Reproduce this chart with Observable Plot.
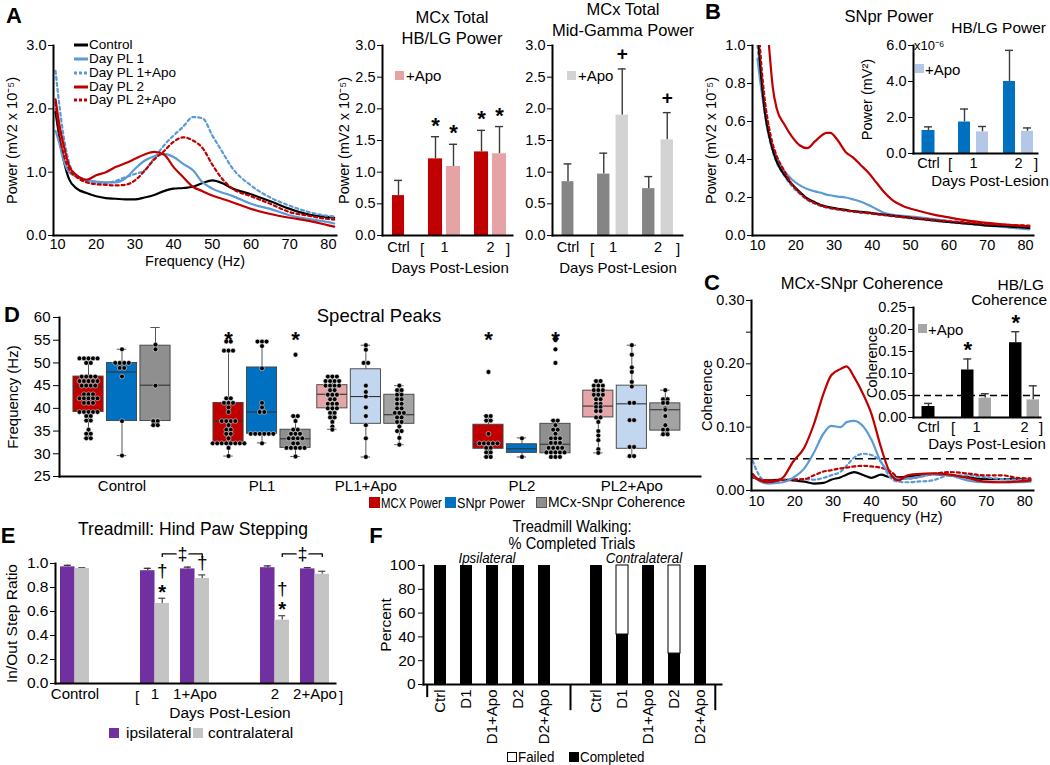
<!DOCTYPE html>
<html><head><meta charset="utf-8">
<script src="https://cdn.jsdelivr.net/npm/d3@7"></script>
<script src="https://cdn.jsdelivr.net/npm/@observablehq/plot@0.6"></script>
<style>
html,body{margin:0;padding:0;background:#fff;}
#root{position:relative;width:1050px;height:765px;overflow:hidden;font-family:"Liberation Sans",Arial,sans-serif;color:#000;}
#root svg{overflow:visible;}
</style></head>
<body><div id="root"></div>
<script>
// ================= DATA =================
// Panel A: MCx power spectra
const freqA = [9.5,10.5,11.5,13,15,17.5,20,22.5,25,27.5,30,32.5,35,37.5,40,42.5,45,47.5,50,52.5,55,60,65,70,75,80,81.5];
const aControl = [1.95,1.55,1.22,0.89,0.74,0.67,0.62,0.59,0.58,0.57,0.57,0.6,0.64,0.7,0.74,0.75,0.77,0.83,0.87,0.83,0.75,0.65,0.54,0.42,0.33,0.29,0.28];
const aPL1 = [1.65,1.45,1.2,1.0,0.93,0.88,0.85,0.84,0.84,0.9,1.05,1.18,1.25,1.29,1.24,1.13,1.03,0.84,0.74,0.68,0.63,0.5,0.42,0.32,0.26,0.21,0.19];
const aPL1Apo = [2.6,2.05,1.6,1.15,0.93,0.86,0.83,0.83,0.86,0.92,0.97,1.03,1.22,1.42,1.58,1.72,1.87,1.85,1.58,1.33,1.08,0.79,0.6,0.47,0.37,0.31,0.3];
const aPL2 = [2.15,1.75,1.45,1.1,0.95,0.88,0.95,1.0,1.08,1.14,1.21,1.28,1.32,1.28,1.08,0.92,0.77,0.7,0.63,0.58,0.53,0.42,0.34,0.28,0.23,0.16,0.14];
const aPL2Apo = [2.1,1.6,1.3,1.05,0.92,0.84,0.81,0.8,0.79,0.8,0.87,1.02,1.2,1.33,1.48,1.55,1.5,1.38,1.12,0.9,0.75,0.62,0.5,0.37,0.31,0.26,0.25];
const seriesNames = ["Control","Day PL 1","Day PL 1+Apo","Day PL 2","Day PL 2+Apo"];
const freqTicks = [10,20,30,40,50,60,70,80];

// Panel A bars
const barGroups = ["Ctrl","1","2"];
const hbPower = [0.63,1.21,1.32];
const hbPowerErr = [0.87,1.56,1.66];
const hbPowerApo = [null,1.09,1.29];
const hbPowerApoErr = [null,1.44,1.72];
const hbSig = ["","*","*"];
const hbSigApo = ["","*","*"];
const mgPower = [0.85,0.97,0.74];
const mgPowerErr = [1.13,1.3,0.93];
const mgPowerApo = [null,1.9,1.51];
const mgPowerApoErr = [null,2.63,1.94];
const mgSig = ["","",""];
const mgSigApo = ["","+","+"];

// Panel B: SNpr power spectra
const freqB = [10,11,12,13,14,15,17,19,21,23,25,27,28,29,31,33,35,37,39,41,43,45,48,52,56,60,65,70,75,81];
const bControl = [1.08,0.83,0.64,0.53,0.45,0.39,0.32,0.27,0.23,0.195,0.175,0.157,0.152,0.148,0.14,0.135,0.128,0.124,0.12,0.115,0.11,0.105,0.098,0.088,0.08,0.071,0.063,0.053,0.048,0.04];
const bPL1 = [0.93,0.77,0.64,0.54,0.46,0.41,0.34,0.295,0.265,0.245,0.232,0.222,0.215,0.212,0.205,0.2,0.19,0.178,0.16,0.14,0.12,0.11,0.103,0.096,0.087,0.076,0.064,0.053,0.044,0.032];
const bPL1Apo = [1.0,0.8,0.63,0.52,0.44,0.385,0.315,0.26,0.22,0.188,0.168,0.152,0.147,0.143,0.136,0.13,0.125,0.12,0.116,0.112,0.107,0.102,0.095,0.086,0.078,0.07,0.061,0.052,0.045,0.036];
const bPL2 = [2.2,1.7,1.25,1.0,0.78,0.67,0.585,0.52,0.475,0.46,0.495,0.53,0.54,0.54,0.5,0.44,0.41,0.37,0.33,0.28,0.23,0.19,0.155,0.13,0.11,0.095,0.078,0.066,0.057,0.048];
const bPL2Apo = [1.2,0.9,0.7,0.57,0.48,0.42,0.34,0.27,0.225,0.19,0.17,0.155,0.15,0.145,0.138,0.132,0.127,0.122,0.118,0.113,0.108,0.104,0.097,0.09,0.082,0.075,0.068,0.06,0.056,0.052];
const snHB = [1.28,1.75,4.0];
const snHBErr = [1.48,2.47,5.73];
const snHBApo = [null,1.2,1.23];
const snHBApoErr = [null,1.5,1.42];

// Panel C: coherence
const freqC = [9,10.5,13,15.5,17,19.5,22.5,25,27.5,29.5,32,33.5,35.5,38,40,42.5,45,47,49.5,52,56,60.5,65,69.5,74,78,81.5];
const cControl = [0.021,0.018,0.016,0.017,0.017,0.016,0.014,0.011,0.012,0.017,0.021,0.025,0.029,0.024,0.02,0.025,0.021,0.021,0.022,0.024,0.026,0.024,0.021,0.018,0.018,0.018,0.017];
const cPL1 = [0.024,0.016,0.011,0.012,0.013,0.02,0.035,0.06,0.09,0.102,0.1,0.108,0.11,0.1,0.08,0.045,0.026,0.018,0.019,0.021,0.026,0.024,0.016,0.013,0.013,0.013,0.014];
const cPL1Apo = [0.047,0.026,0.013,0.015,0.017,0.018,0.018,0.017,0.02,0.024,0.03,0.039,0.052,0.058,0.056,0.045,0.02,0.014,0.013,0.014,0.016,0.024,0.024,0.021,0.018,0.017,0.017];
const cPL2 = [0.026,0.017,0.013,0.016,0.021,0.045,0.068,0.105,0.153,0.182,0.192,0.196,0.179,0.15,0.121,0.068,0.026,0.016,0.024,0.026,0.027,0.025,0.02,0.014,0.013,0.014,0.016];
const cPL2Apo = [0.021,0.018,0.016,0.016,0.016,0.017,0.018,0.024,0.03,0.032,0.035,0.036,0.038,0.039,0.038,0.036,0.03,0.021,0.019,0.021,0.026,0.029,0.027,0.024,0.024,0.02,0.019];
const cohHB = [0.025,0.108,0.17];
const cohHBErr = [0.032,0.133,0.195];
const cohHBApo = [null,0.044,0.04];
const cohHBApoErr = [null,0.054,0.072];
const cohSig = ["","*","*"];
const cohThreshold = 0.05;

// Panel D: spectral peaks (box stats: lo, q1, median, q3, hi)
const groupsD = ["Control","PL1","PL1+Apo","PL2","PL2+Apo"];
const measuresD = ["MCX Power","SNpr Power","MCx-SNpr Coherence"];
const mcxBoxes = [[33.4,39.2,44.8,47.0,51.0],[29.5,32.5,37.2,41.2,52.7],[35.4,40.0,43.1,45.1,47.1],[29.3,31.1,32.1,36.4,38.4],[30.2,38.0,40.5,43.9,46.1]];
const snprBoxes = [[29.6,37.2,48.0,50.0,53.0],[32.4,34.4,39.2,49.0,54.7],[29.3,36.6,42.6,48.6,53.9],[29.3,30.2,31.1,32.1,33.5],[29.3,31.1,41.0,45.0,53.9]];
const cohBoxes = [[36.2,37.2,45.1,53.8,57.8],[29.4,31.3,33.3,35.3,38.3],[32.0,36.6,38.6,43.0,45.0],[29.3,30.1,32.1,36.6,37.3],[34.1,35.1,39.7,41.1,44.0]];
const mcxDots = [
 [51,51,51,51,51,50,50,47,47,47,47,46,46,46,46,46,45,45,45,45,43.1,43.1,43.1,42.2,42.2,42.2,42.2,42.2,41.2,41.2,41.2,39.2,39.2,39.2,39.2,39.2,38.3,38.3,37.3,37.3,35.3,34.4,34.4,33.4,33.4],
 [54.7,54.7,52.7,52.7,52.7,42.2,42.2,41.2,41.2,41.2,40.2,39.2,37.2,37.2,37.2,37.2,36.3,35.3,35.3,34.4,34.4,33.4,32.3,32.3,32.3,32.3,32.3,32.3,32.3,32.3,31.3,29.5],
 [47,47,47,46,46,46,46,45,45,45,45,44,44,43,43,43,42,42,41,41,41,40,40,40,39,39,38,38,37,36,35.3],
 [48,38.3,38.3,37.3,37.3,34.4,32.3,32.3,32.3,32.3,32.3,31.3,31.3,30.3,30.3,29.3,29.3],
 [46,46,45,45,45,44,44,44,43,43,43,42,42,41,41,40.3,40.3,39.4,39.4,38,38,37,35,34,33,31,30.2]
];
const snprDots = [
 [53,50,50,50,50,48.9,48.9,47,37.2,29.6],
 [54.7,54.7,54.7,53.7,48.8,41.2,40.2,39.2,39.2,34.4,34.4,34.4,34.4,34.4,34.4,32.3],
 [53.9,52.9,50,50,45,43.6,42.6,40.2,38.3,36.3,33.4,29.3],
 [33.4,29.3],
 [53.9,51.8,49,48,45.8,44.8,41.2,41.2,37.4,37.4,31.5,31.5,29.5,29.5]
];
const cohDots = [
 [54,53,45,37.2,37.2,36.3,36.3],
 [51.8,38.3,38.3,37.2,35.3,35.3,34.4,34.4,34.4,33.4,33.4,33.4,33.4,32.3,32.3,31.3,31.3,31.3,31.3,31.3,29.4],
 [45,44,44,43,43,42,42,41,41,40,40,39,39,39,38,38,37,37,36,35,35,33.5,32],
 [55,53,50,37.3,37.3,36.3,35.3,35.3,34.4,33.4,33.4,33.4,32.4,32.4,32.4,31.3,31.3,31.3,31.3,30.3,30.3,30.3,30.3,30.3,29.3,29.3,29.3],
 [44,42,42,41.2,41.2,40,39.7,38.3,36.3,35.3,35.3,34.3,34.3]
];
const starsD = [[false,false,false],[true,false,true],[false,false,false],[true,false,true],[false,false,false]];

// Panel E: hind paw stepping
const groupsE = ["Control","1","1+Apo","2","2+Apo"];
const ipsiE = [0.972,0.94,0.955,0.965,0.955];
const ipsiErrE = [0.985,0.96,0.97,0.98,0.965];
const contraE = [0.958,0.667,0.875,0.528,0.91];
const contraErrE = [0.965,0.71,0.905,0.565,0.935];
const starsE = ["","*","","*",""];
const daggersE = ["","†","†","†",""];
const bracketsE = [["1","1+Apo"],["2","2+Apo"]];

// Panel F: % completed trials
const catsF = ["Ctrl","D1","D1+Apo","D2","D2+Apo"];
const ipsiCompletedF = [100,100,100,100,100];
const contraCompletedF = [100,42,100,26,100];

// ================= STYLE / LAYOUT =================
const FONT = '"Liberation Sans", Arial, sans-serif';
const RED = "#c00000", BLUE = "#5b9bd5", DBLUE = "#0070c0";
const lineStyle = {
  "Control": {stroke: "#000", dash: null},
  "Day PL 1": {stroke: BLUE, dash: null},
  "Day PL 1+Apo": {stroke: BLUE, dash: "3,3"},
  "Day PL 2": {stroke: RED, dash: null},
  "Day PL 2+Apo": {stroke: RED, dash: "3,3"}
};
const root = document.getElementById("root");
const st = () => ({fontFamily: FONT, fontSize: "14px", background: "transparent", overflow: "visible", color: "#000"});
const f1 = d3.format(".1f"), f2 = d3.format(".2f");
const TICK = 14.5;

function put(node, left, top) {
  node.style.position = "absolute"; node.style.left = left + "px"; node.style.top = top + "px";
  root.appendChild(node); return node;
}
function txt(html, x, y, size = 14, o = {}) {
  const d = document.createElement("div");
  d.innerHTML = html;
  const tx = o.left ? 0 : o.right ? -100 : -50;
  const sx = o.narrow ? ` scaleX(${o.narrow})` : "";
  Object.assign(d.style, {position: "absolute", left: x + "px", top: y + "px",
    transform: `translate(${tx}%, -50%)${sx}`, transformOrigin: o.left ? "left center" : o.right ? "right center" : "center center",
    fontSize: size + "px", lineHeight: "1",
    whiteSpace: "nowrap", fontFamily: FONT, fontWeight: o.weight || "normal",
    fontStyle: o.style || "normal", textAlign: "center"});
  root.appendChild(d); return d;
}
function swatch(x, y, s, fill, stroke) {
  const d = document.createElement("div");
  Object.assign(d.style, {position: "absolute", left: (x - s / 2) + "px", top: (y - s / 2) + "px",
    width: s + "px", height: s + "px", background: fill, boxSizing: "border-box",
    border: stroke ? `1px solid ${stroke}` : "none"});
  root.appendChild(d);
}
const axisLines = () => [Plot.frame({anchor: "left", strokeWidth: 2}), Plot.frame({anchor: "bottom", strokeWidth: 2})];
function axX(o) {
  return Plot.axisX({tickSize: 0, tickPadding: 5, fontSize: TICK, labelAnchor: "center", labelArrow: "none", label: null, ...o});
}
function axY(o) {
  return Plot.axisY({tickSize: 5, tickPadding: 2, fontSize: TICK, labelAnchor: "center", labelArrow: "none", label: null, ...o});
}

function lineMarks(freq, valuesByName, order) {
  return order.map(name => {
    const vals = valuesByName[name];
    const rows = freq.map((f, i) => ({f, v: vals[i]})).filter(d => d.v != null);
    const s = lineStyle[name];
    return Plot.line(rows, {x: "f", y: "v", stroke: s.stroke, strokeWidth: 2.2,
      strokeDasharray: s.dash || undefined, curve: "monotone-x", clip: true});
  });
}

// grouped bar chart helper
function barChart(o) {
  const frameW = o.width - o.marginLeft - o.marginRight;
  const bw = d3.scaleBand().domain(o.groups).range([0, frameW]).paddingInner(o.pi).paddingOuter(o.po).align(0).bandwidth();
  const rows = [];
  o.groups.forEach((g, i) => {
    const single = o.apo[i] == null;
    rows.push({g, v: o.base[i], e: o.baseErr[i], kind: single ? "single" : "base", sig: o.sig ? o.sig[i] : ""});
    if (!single) rows.push({g, v: o.apo[i], e: o.apoErr[i], kind: "apo", sig: o.sigApo ? o.sigApo[i] : ""});
  });
  const off = {single: 0, base: -(o.gap / 2 + o.barW / 2), apo: o.gap / 2 + o.barW / 2};
  const wid = {single: o.singleW, base: o.barW, apo: o.barW};
  const marks = [...(o.under || [])];
  for (const k of ["single", "base", "apo"]) {
    const rs = rows.filter(r => r.kind === k);
    if (!rs.length) continue;
    const dx = off[k], w = wid[k];
    marks.push(Plot.ruleX(rs, {x: "g", y1: "v", y2: "e", dx, stroke: "#3a3a3a", strokeWidth: 1.4}));
    marks.push(Plot.tickY(rs, {x: "g", y: "e", insetLeft: bw / 2 + dx - 4, insetRight: bw / 2 - dx - 4, stroke: "#3a3a3a", strokeWidth: 1.4}));
    marks.push(Plot.barY(rs, {x: "g", y: "v", fill: k === "apo" ? o.colors[1] : o.colors[0],
      insetLeft: bw / 2 + dx - w / 2, insetRight: bw / 2 - dx - w / 2}));
    const sg = rs.filter(r => r.sig);
    if (sg.length) marks.push(Plot.text(sg, {x: "g", y: "e", text: "sig", dx,
      dy: sg[0].sig === "*" ? (o.starDy || -11) : -15, fontSize: sg[0].sig === "*" ? 22 : 19, fontWeight: "bold"}));
  }
  marks.push(
    axX({tickPadding: o.tickPad || 6}),
    axY({ticks: o.yTicks, tickFormat: o.yFormat, label: o.yLabel || null, labelOffset: o.yLabelOffset}),
    ...axisLines());
  return Plot.plot({
    width: o.width, height: o.height, marginLeft: o.marginLeft, marginRight: o.marginRight,
    marginTop: o.marginTop, marginBottom: o.marginBottom, style: st(),
    x: {domain: o.groups, paddingInner: o.pi, paddingOuter: o.po, align: 0},
    y: {domain: o.yDomain},
    marks
  });
}

// ================= PANEL A =================
const byNameA = {"Control": aControl, "Day PL 1": aPL1, "Day PL 1+Apo": aPL1Apo, "Day PL 2": aPL2, "Day PL 2+Apo": aPL2Apo};
put(Plot.plot({
  width: 345, height: 245, marginLeft: 53, marginRight: 9, marginTop: 15, marginBottom: 40,
  style: st(),
  x: {domain: [8.97, 82.1]},
  y: {domain: [0, 3]},
  marks: [...lineMarks(freqA, byNameA, seriesNames),
    axX({ticks: freqTicks, tickPadding: 3, label: "Frequency (Hz)", labelOffset: 30}),
    axY({ticks: [0, 1, 2, 3], tickFormat: f1, label: "Power (mV2 x 10⁻⁵)", labelOffset: 47}),
    ...axisLines()]
}), 0, 30);

seriesNames.forEach((name, i) => {
  const y = [45, 59, 73, 86.5, 100][i];
  const s = lineStyle[name];
  txt(`<svg width="14" height="4" style="display:block"><line x1="0" y1="2" x2="14" y2="2" stroke="${s.stroke}" stroke-width="3" ${s.dash ? 'stroke-dasharray="3,2"' : ""}/></svg>`, 74, y, 13, {left: true});
  txt(name, 89, y, 13.5, {left: true});
});

put(barChart({groups: barGroups, base: hbPower, baseErr: hbPowerErr, apo: hbPowerApo, apoErr: hbPowerApoErr,
  sig: hbSig, sigApo: hbSigApo, colors: [RED, "#e6a3a6"],
  width: 175, height: 230, marginLeft: 42, marginRight: 3, marginTop: 15, marginBottom: 25,
  pi: 0.31, po: 0.06, barW: 14, gap: 4, singleW: 12,
  yDomain: [0, 3], yTicks: [0, 0.5, 1, 1.5, 2, 2.5, 3], yFormat: f1,
  yLabel: "Power (mV2 x 10⁻⁵)", yLabelOffset: 44, tickPad: 6}), 340, 30);

put(barChart({groups: barGroups, base: mgPower, baseErr: mgPowerErr, apo: mgPowerApo, apoErr: mgPowerApoErr,
  sig: mgSig, sigApo: mgSigApo, colors: ["#858585", "#d3d3d3"],
  width: 172, height: 230, marginLeft: 37, marginRight: 5, marginTop: 15, marginBottom: 25,
  pi: 0.32, po: 0.08, barW: 12.5, gap: 6, singleW: 12,
  yDomain: [0, 3], yTicks: [0, 0.5, 1, 1.5, 2, 2.5, 3], yFormat: f1, tickPad: 6}), 515, 30);

txt("A", 14, 16, 22, {weight: "bold"});
txt("MCx Total", 452, 17, 16.5); txt("HB/LG Power", 452, 38, 16.5);
txt("MCx Total", 623, 9, 16.5); txt("Mid-Gamma Power", 623, 30, 16.5);
swatch(399, 75, 9, "#e6a3a6"); txt("+Apo", 406, 75, 15, {left: true});
swatch(571, 75, 9, "#d3d3d3"); txt("+Apo", 578, 75, 15, {left: true});
txt("[", 422, 248, 15); txt("]", 508, 248, 15); txt("Days Post-Lesion", 450, 267, 15);
txt("[", 592, 248, 15); txt("]", 678, 248, 15); txt("Days Post-Lesion", 618, 267, 15);

// ================= PANEL B =================
const byNameB = {"Control": bControl, "Day PL 1": bPL1, "Day PL 1+Apo": bPL1Apo, "Day PL 2": bPL2, "Day PL 2+Apo": bPL2Apo};
put(Plot.plot({
  width: 340, height: 235, marginLeft: 52, marginRight: 7, marginTop: 15, marginBottom: 30,
  style: st(),
  x: {domain: [8.7, 82.1]},
  y: {domain: [0, 1]},
  marks: [...lineMarks(freqB, byNameB, ["Day PL 1+Apo", "Day PL 1", "Control", "Day PL 2+Apo", "Day PL 2"]),
    axX({ticks: freqTicks, tickPadding: 4}),
    axY({ticks: [0, 0.2, 0.4, 0.6, 0.8, 1], tickFormat: f1, label: "Power (mV2 x 10⁻⁵)", labelOffset: 47}),
    ...axisLines()]
}), 700, 30);
put(barChart({groups: barGroups, base: snHB, baseErr: snHBErr, apo: snHBApo, apoErr: snHBApoErr,
  colors: [DBLUE, "#b4c7e7"],
  width: 182, height: 163, marginLeft: 53, marginRight: 5, marginTop: 25, marginBottom: 30,
  pi: 0.34, po: 0.033, barW: 12, gap: 6, singleW: 13,
  yDomain: [0, 6], yTicks: [0, 2, 4, 6], yFormat: f1,
  yLabel: "Power (mV²)", yLabelOffset: 52, tickPad: 4}), 860, 20);
txt("B", 713, 12, 22, {weight: "bold"});
txt("SNpr Power", 889, 16, 16.5);
txt("HB/LG Power", 1046, 28, 15.5, {right: true});
txt("x10⁻⁶", 914, 45, 13, {left: true});
swatch(919, 68, 9, "#b4c7e7"); txt("+Apo", 925, 69, 15, {left: true});
txt("[", 950, 163, 15); txt("]", 1036, 163, 15); txt("Days Post-Lesion", 990, 180, 15);

// ================= PANEL C =================
const byNameC = {"Control": cControl, "Day PL 1": cPL1, "Day PL 1+Apo": cPL1Apo, "Day PL 2": cPL2, "Day PL 2+Apo": cPL2Apo};
put(Plot.plot({
  width: 340, height: 240, marginLeft: 51, marginRight: 7, marginTop: 15, marginBottom: 35,
  style: st(),
  x: {domain: [8.7, 82.3]},
  y: {domain: [0, 0.3]},
  marks: [
    Plot.ruleY([cohThreshold], {stroke: "#000", strokeWidth: 1.5, strokeDasharray: "8,5"}),
    ...lineMarks(freqC, byNameC, ["Control", "Day PL 1+Apo", "Day PL 2+Apo", "Day PL 1", "Day PL 2"]),
    axX({ticks: freqTicks, tickPadding: 5, label: "Frequency (Hz)", labelOffset: 31}),
    axY({ticks: [0, 0.05, 0.1, 0.15, 0.2, 0.25, 0.3], tickFormat: d => (Math.round(d * 100) % 10 === 0 ? f2(d) : ""), label: "Coherence", labelOffset: 50}),
    ...axisLines()]
}), 700, 285);
put(barChart({groups: barGroups, base: cohHB, baseErr: cohHBErr, apo: cohHBApo, apoErr: cohHBApoErr,
  sig: cohSig, colors: ["#000", "#a6a6a6"], starDy: -9,
  under: [Plot.ruleY([cohThreshold], {stroke: "#000", strokeWidth: 1.5, strokeDasharray: "7,4"})],
  width: 187, height: 162, marginLeft: 53, marginRight: 7, marginTop: 27, marginBottom: 25,
  pi: 0.375, po: 0.01, barW: 12.5, gap: 5, singleW: 13,
  yDomain: [0, 0.25], yTicks: [0, 0.05, 0.1, 0.15, 0.2, 0.25], yFormat: f2,
  yLabel: "Coherence", yLabelOffset: 47, tickPad: 4}), 860, 280);
txt("C", 712, 283, 22, {weight: "bold"});
txt("MCx-SNpr Coherence", 862, 283, 16.5);
txt("HB/LG", 1044, 285, 15.5, {right: true}); txt("Coherence", 1047, 300, 15.5, {right: true});
swatch(922, 328, 9, "#a6a6a6"); txt("+Apo", 928, 329, 15, {left: true});
txt("[", 953, 427, 15); txt("]", 1041, 427, 15); txt("Days Post-Lesion", 987, 443, 15);

// ================= PANEL D =================
const slotD = [0, 4.18, 7.28, 11.94, 15.22]; // group start positions on the box axis
const fillD = {base: [RED, DBLUE, "#8f8f8f"], apo: ["#e6a5a8", "#c2d6ef", "#a3a3a3"]};
const boxSets = [mcxBoxes, snprBoxes, cohBoxes];
const dotSets = [mcxDots, snprDots, cohDots];
const boxRows = [], dotRows = [], starRows = [];
groupsD.forEach((g, gi) => {
  measuresD.forEach((m, ti) => {
    const pos = slotD[gi] + ti;
    const [lo, q1, med, q3, hi] = boxSets[ti][gi];
    boxRows.push({pos, lo, q1, med, q3, hi, fill: (g.includes("Apo") ? fillD.apo : fillD.base)[ti]});
    const counts = d3.group(dotSets[ti][gi], v => v);
    for (const [v, arr] of counts) arr.forEach((_, k) => dotRows.push({x: pos + (k - (arr.length - 1) / 2) * 0.135, v}));
    if (starsD[gi][ti]) starRows.push({pos});
  });
});
const hw = 0.45, cw = 0.14;
put(Plot.plot({
  width: 705, height: 196, marginLeft: 59, marginRight: 5, marginTop: 17, marginBottom: 20,
  style: st(),
  color: {type: "identity"},
  x: {domain: [-0.866, 18.27]},
  y: {domain: [25, 60]},
  marks: [
    Plot.ruleX(boxRows, {x: "pos", y1: "lo", y2: "q1", stroke: "#555", strokeWidth: 1}),
    Plot.ruleX(boxRows, {x: "pos", y1: "q3", y2: "hi", stroke: "#555", strokeWidth: 1}),
    Plot.ruleY(boxRows, {y: "lo", x1: d => d.pos - cw, x2: d => d.pos + cw, stroke: "#555", strokeWidth: 1}),
    Plot.ruleY(boxRows, {y: "hi", x1: d => d.pos - cw, x2: d => d.pos + cw, stroke: "#555", strokeWidth: 1}),
    Plot.rect(boxRows, {x1: d => d.pos - hw, x2: d => d.pos + hw, y1: "q1", y2: "q3", fill: "fill", stroke: "#404040", strokeWidth: 0.9}),
    Plot.ruleY(boxRows, {y: "med", x1: d => d.pos - hw, x2: d => d.pos + hw, stroke: "#333", strokeWidth: 1.1}),
    Plot.dot(dotRows, {x: "x", y: "v", r: 2.4, fill: "#000", stroke: "#fff", strokeWidth: 0.5}),
    Plot.text(starRows, {x: "pos", frameAnchor: "top", dy: 14, text: () => "*", fontSize: 22, fontWeight: "bold"}),
    axX({ticks: slotD.map(s => s + 1), tickFormat: (d, i) => groupsD[i], tickPadding: 4, fontSize: 15}),
    axY({ticks: [25, 30, 35, 40, 45, 50, 55, 60], tickSize: 6, tickPadding: 3, fontSize: 15, label: "Frequency (Hz)", labelOffset: 52}),
    ...axisLines()
  ]
}), 0, 300);
txt("D", 12, 315, 22, {weight: "bold"});
txt("Spectral Peaks", 379, 316, 18.5);
swatch(374, 502, 11, RED); txt("MCX Power", 381, 502, 15, {left: true, narrow: 0.76});
swatch(450, 502, 11, DBLUE); txt("SNpr Power", 457, 502, 15, {left: true, narrow: 0.84});
swatch(541, 502, 11, "#8f8f8f", "#555"); txt("MCx-SNpr Coherence", 548, 502, 15.5, {left: true, narrow: 0.9});

// ================= PANEL E =================
const domainE = ["Control", "gapA", "1", "1+Apo", "gapB", "2", "2+Apo"];
const bwE = d3.scaleBand().domain(domainE).range([0, 280]).paddingInner(0.284).paddingOuter(0.1).align(0.45).bandwidth();
const halfE = bwE / 4;
const rowsE = groupsE.map((g, i) => ({g, ipsi: ipsiE[i], ipsiErr: ipsiErrE[i], contra: contraE[i], contraErr: contraErrE[i], star: starsE[i], dagger: daggersE[i]}));
const brRows = bracketsE.map(([a, b]) => ({a, b, y: 1.08, yEnd: 1.05}));
put(Plot.plot({
  width: 340, height: 173, marginLeft: 55, marginRight: 5, marginTop: 33, marginBottom: 20,
  style: st(),
  x: {domain: domainE, paddingInner: 0.284, paddingOuter: 0.1, align: 0.45},
  y: {domain: [0, 1]},
  marks: [
    Plot.ruleX(rowsE, {x: "g", y1: "ipsi", y2: "ipsiErr", dx: -halfE, stroke: "#333", strokeWidth: 1.3}),
    Plot.tickY(rowsE, {x: "g", y: "ipsiErr", insetLeft: bwE / 2 - halfE - 3.5, insetRight: bwE / 2 + halfE - 3.5, stroke: "#333", strokeWidth: 1.3}),
    Plot.ruleX(rowsE, {x: "g", y1: "contra", y2: "contraErr", dx: halfE, stroke: "#555", strokeWidth: 1.3}),
    Plot.tickY(rowsE, {x: "g", y: "contraErr", insetLeft: bwE / 2 + halfE - 3.5, insetRight: bwE / 2 - halfE - 3.5, stroke: "#555", strokeWidth: 1.3}),
    Plot.barY(rowsE, {x: "g", y: "ipsi", fill: "#7030a0", insetRight: bwE / 2}),
    Plot.barY(rowsE, {x: "g", y: "contra", fill: "#c4c4c4", insetLeft: bwE / 2}),
    Plot.text(rowsE.filter(d => d.star), {x: "g", y: "contraErr", text: "star", dx: halfE, dy: -6, fontSize: 20, fontWeight: "bold"}),
    Plot.text(rowsE.filter(d => d.dagger && d.star), {x: "g", y: "contraErr", text: "dagger", dx: halfE, dy: -27, fontSize: 19}),
    Plot.text(rowsE.filter(d => d.dagger && !d.star), {x: "g", y: "contraErr", text: "dagger", dx: halfE, dy: -12, fontSize: 19}),
    Plot.link(brRows, {x1: "a", x2: "b", y1: "y", y2: "y", dx: halfE, stroke: "#000", strokeWidth: 1.3}),
    Plot.ruleX(brRows, {x: "a", y1: "yEnd", y2: "y", dx: halfE, stroke: "#000", strokeWidth: 1.3}),
    Plot.ruleX(brRows, {x: "b", y1: "yEnd", y2: "y", dx: halfE, stroke: "#000", strokeWidth: 1.3}),
    Plot.text(brRows, {x: d => d.a, y: "y", text: () => "‡", dx: halfE + bwE * 0.7, fontSize: 18, stroke: "#fff", strokeWidth: 6, paintOrder: "stroke", fill: "#000"}),
    axX({tickPadding: 5, fontSize: 15, tickFormat: d => d.startsWith("gap") ? "" : d}),
    axY({ticks: [0, 0.2, 0.4, 0.6, 0.8, 1], tickFormat: f1, fontSize: 15.5, label: "In/Out Step Ratio", labelOffset: 50}),
    ...axisLines()
  ]
}), 0, 530);
txt("E", 8, 536, 22, {weight: "bold"});
txt("Treadmill: Hind Paw Stepping", 193, 530, 17.5);
txt("[", 137, 696, 15); txt("]", 341, 696, 15); txt("Days Post-Lesion", 230, 713, 15.5);
swatch(114, 733, 10, "#7030a0"); txt("ipsilateral", 126, 733, 15.5, {left: true});
swatch(198, 733, 10, "#c4c4c4"); txt("contralateral", 208, 733, 15.5, {left: true});

// ================= PANEL F =================
const domainF = [...catsF.map(c => "I|" + c), "gap", ...catsF.map(c => "C|" + c)];
const rowsF = [
  ...catsF.map((c, i) => ({k: "I|" + c, done: ipsiCompletedF[i]})),
  ...catsF.map((c, i) => ({k: "C|" + c, done: contraCompletedF[i]}))
];
const bwF = d3.scaleBand().domain(domainF).range([0, 298]).paddingInner(0.52).paddingOuter(0.28).align(0.45);
const edgeL = bwF("I|Ctrl") + bwF.bandwidth() / 2, edgeR = 298 - (bwF("C|D2+Apo") + bwF.bandwidth() / 2);
put(Plot.plot({
  width: 345, height: 230, marginLeft: 43, marginRight: 4, marginTop: 30, marginBottom: 81,
  style: st(),
  x: {domain: domainF, paddingInner: 0.52, paddingOuter: 0.28, align: 0.45},
  y: {domain: [0, 100]},
  marks: [
    Plot.barY(rowsF, {x: "k", y: "done", fill: "#000"}),
    Plot.barY(rowsF.filter(d => d.done < 100), {x: "k", y1: "done", y2: () => 100, fill: "#fff", stroke: "#000", strokeWidth: 1}),
    Plot.ruleX(["gap"], {x: d => d, y1: 0, y2: -22, stroke: "#000", strokeWidth: 2}),
    Plot.ruleX(["C|D2+Apo"], {x: d => d, y1: 0, y2: -22, dx: edgeR, stroke: "#000", strokeWidth: 2}),
    Plot.ruleX(["I|Ctrl"], {x: d => d, y1: 0, y2: -11, dx: -edgeL, stroke: "#000", strokeWidth: 2}),
    axX({tickPadding: 5, tickRotate: -90, fontSize: 15, tickFormat: d => d.includes("|") ? d.split("|")[1] : ""}),
    axY({ticks: [0, 20, 40, 60, 80, 100], tickPadding: 3, fontSize: 15.5, label: "Percent", labelOffset: 44}),
    ...axisLines()
  ]
}), 380, 535);
txt("F", 376, 536, 22, {weight: "bold"});
txt("Treadmill Walking:", 572, 526, 17, {narrow: 0.86});
txt("% Completed Trials", 572, 543, 17, {narrow: 0.86});
txt("Ipsilateral", 487, 558, 15.5, {narrow: 0.86, style: "italic"});
txt("Contralateral", 644, 558, 15.5, {narrow: 0.86, style: "italic"});
swatch(512, 757, 10, "#fff", "#000"); txt("Failed", 518, 757, 15.5, {left: true, narrow: 0.86});
swatch(574, 757, 10, "#000"); txt("Completed", 580, 757, 15.5, {left: true, narrow: 0.86});
</script></body></html>
